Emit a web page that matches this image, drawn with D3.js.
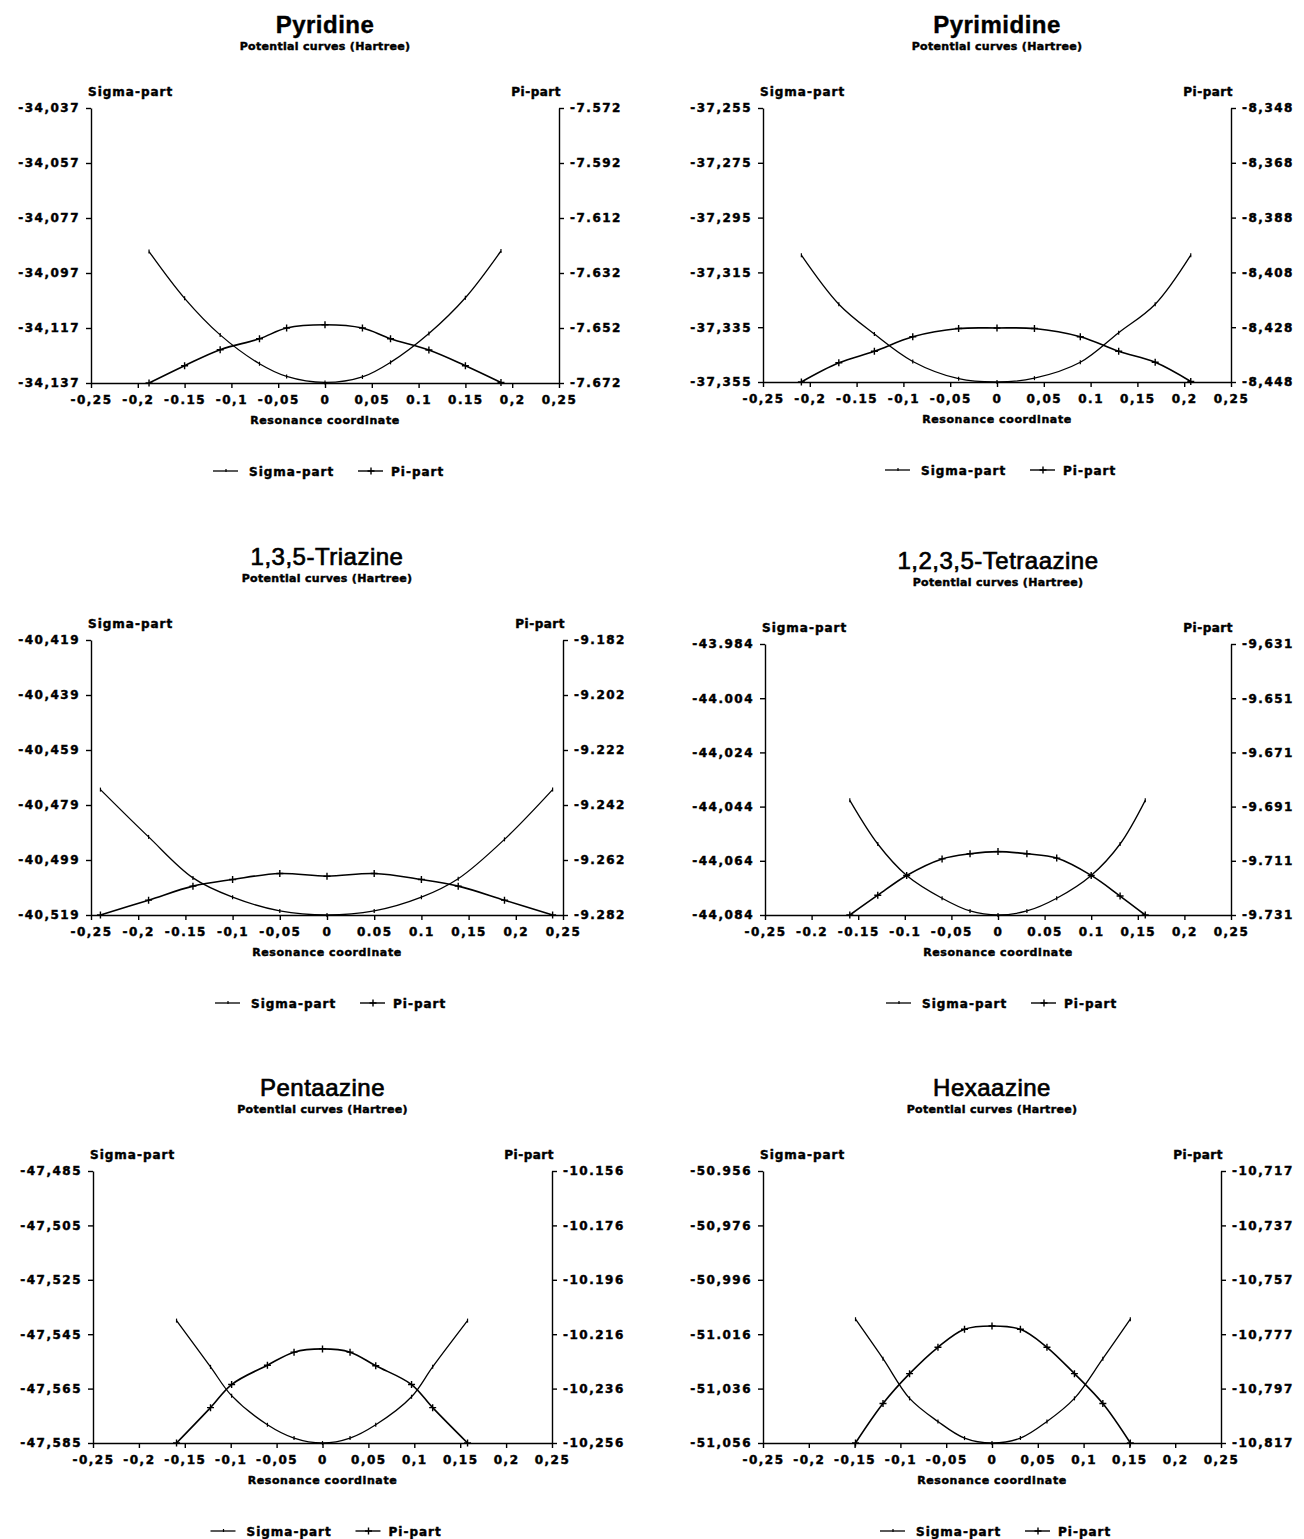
<!DOCTYPE html>
<html>
<head>
<meta charset="utf-8">
<script src="https://cdn.jsdelivr.net/npm/d3@7"></script>
<style>
	body { margin: 0; background: #fff; }
	svg text { fill: #000; }
</style>
</head>
<body>
<div id="viz"></div>
<script>
// values (Hartree)
var pyridineX = [-0.188, -0.15, -0.112, -0.07, -0.041, 0, 0.04, 0.07, 0.111, 0.15, 0.188];
var pyridineSigma = [-34.0892, -34.1062, -34.1195, -34.1300, -34.1346, -34.1368, -34.1348, -34.1295, -34.1190, -34.1060, -34.0890];
var pyridinePi = [-7.6720, -7.6657, -7.6599, -7.6559, -7.6520, -7.6508, -7.6520, -7.6559, -7.6600, -7.6657, -7.6718];

var pyrimidineX = [-0.209, -0.169, -0.131, -0.090, -0.041, 0, 0.040, 0.089, 0.130, 0.169, 0.207];
var pyrimidineSigma = [-37.3087, -37.3266, -37.3375, -37.3475, -37.3538, -37.3550, -37.3536, -37.3478, -37.3370, -37.3266, -37.3087];
var pyrimidinePi = [-8.4480, -8.4410, -8.4368, -8.4315, -8.4285, -8.4283, -8.4285, -8.4315, -8.4368, -8.4408, -8.4478];

var triazineX = [-0.240, -0.189, -0.142, -0.100, -0.050, 0, 0.050, 0.100, 0.139, 0.188, 0.239];
var triazineSigma = [-40.4734, -40.4906, -40.5055, -40.5125, -40.5175, -40.5190, -40.5175, -40.5125, -40.5058, -40.4915, -40.4734];
var triazinePi = [-9.2820, -9.2766, -9.2715, -9.2691, -9.2669, -9.2679, -9.2669, -9.2691, -9.2715, -9.2766, -9.2820];

var tetraazineX = [-0.159, -0.129, -0.098, -0.060, -0.030, 0, 0.031, 0.063, 0.100, 0.131, 0.158];
var tetraazineSigma = [-44.0417, -44.0578, -44.0694, -44.0778, -44.0825, -44.0840, -44.0825, -44.0778, -44.0694, -44.0578, -44.0417];
var tetraazinePi = [-9.7310, -9.7237, -9.7164, -9.7103, -9.7084, -9.7076, -9.7084, -9.7100, -9.7164, -9.7240, -9.7310];

var pentaazineX = [-0.159, -0.122, -0.099, -0.060, -0.031, 0, 0.030, 0.058, 0.097, 0.120, 0.158];
var pentaazineSigma = [-47.5400, -47.5570, -47.5676, -47.5783, -47.5832, -47.5850, -47.5832, -47.5783, -47.5680, -47.5570, -47.5400];
var pentaazinePi = [-10.2560, -10.2430, -10.2345, -10.2274, -10.2226, -10.2214, -10.2226, -10.2276, -10.2345, -10.2430, -10.2560];

var hexaazineX = [-0.149, -0.119, -0.090, -0.059, -0.030, 0, 0.031, 0.060, 0.090, 0.121, 0.151];
var hexaazineSigma = [-51.0105, -51.0250, -51.0396, -51.0481, -51.0542, -51.0560, -51.0542, -51.0481, -51.0396, -51.0250, -51.0105];
var hexaazinePi = [-10.8170, -10.8025, -10.7915, -10.7818, -10.7752, -10.7740, -10.7752, -10.7818, -10.7915, -10.8025, -10.8170];

// tick labels as printed (the original mixes commas and points)
var xTickValues = [-0.25, -0.2, -0.15, -0.1, -0.05, 0, 0.05, 0.1, 0.15, 0.2, 0.25];

var pyridineXLabels = ["-0,25", "-0,2", "-0.15", "-0,1", "-0,05", "0", "0,05", "0.1", "0.15", "0,2", "0,25"];
var pyridineSigmaLabels = ["-34,037", "-34,057", "-34,077", "-34,097", "-34,117", "-34,137"];
var pyridinePiLabels = ["-7.572", "-7.592", "-7.612", "-7.632", "-7.652", "-7.672"];

var pyrimidineXLabels = ["-0,25", "-0,2", "-0.15", "-0,1", "-0,05", "0", "0,05", "0.1", "0,15", "0,2", "0,25"];
var pyrimidineSigmaLabels = ["-37,255", "-37,275", "-37,295", "-37,315", "-37,335", "-37,355"];
var pyrimidinePiLabels = ["-8,348", "-8,368", "-8,388", "-8,408", "-8,428", "-8,448"];

var triazineXLabels = ["-0,25", "-0,2", "-0.15", "-0,1", "-0,05", "0", "0.05", "0.1", "0,15", "0,2", "0,25"];
var triazineSigmaLabels = ["-40,419", "-40,439", "-40,459", "-40,479", "-40,499", "-40,519"];
var triazinePiLabels = ["-9.182", "-9.202", "-9.222", "-9.242", "-9.262", "-9.282"];

var tetraazineXLabels = ["-0,25", "-0.2", "-0.15", "-0.1", "-0,05", "0", "0.05", "0.1", "0,15", "0,2", "0,25"];
var tetraazineSigmaLabels = ["-43.984", "-44.004", "-44,024", "-44,044", "-44,064", "-44,084"];
var tetraazinePiLabels = ["-9,631", "-9.651", "-9.671", "-9.691", "-9.711", "-9.731"];

var pentaazineXLabels = ["-0,25", "-0,2", "-0,15", "-0,1", "-0,05", "0", "0,05", "0,1", "0,15", "0,2", "0,25"];
var pentaazineSigmaLabels = ["-47,485", "-47,505", "-47,525", "-47,545", "-47,565", "-47,585"];
var pentaazinePiLabels = ["-10.156", "-10.176", "-10.196", "-10.216", "-10,236", "-10,256"];

var hexaazineXLabels = ["-0,25", "-0,2", "-0,15", "-0,1", "-0,05", "0", "0,05", "0,1", "0,15", "0,2", "0,25"];
var hexaazineSigmaLabels = ["-50.956", "-50,976", "-50,996", "-51.016", "-51,036", "-51,056"];
var hexaazinePiLabels = ["-10,717", "-10,737", "-10,757", "-10,777", "-10,797", "-10,817"];

var SPAN = 0.1;   // both value axes cover 0.1 Hartree
var STEP = 0.02;

var panels = [
	{ title: "Pyridine", heavy: true, left: 91, right: 559, top: 108, bottom: 383,
	  x: pyridineX, sigma: pyridineSigma, pi: pyridinePi, sigmaTop: -34.037, piTop: -7.572,
	  xLabels: pyridineXLabels, sigmaLabels: pyridineSigmaLabels, piLabels: pyridinePiLabels },
	{ title: "Pyrimidine", heavy: true, left: 763, right: 1231, top: 108, bottom: 382,
	  x: pyrimidineX, sigma: pyrimidineSigma, pi: pyrimidinePi, sigmaTop: -37.255, piTop: -8.348,
	  xLabels: pyrimidineXLabels, sigmaLabels: pyrimidineSigmaLabels, piLabels: pyrimidinePiLabels },
	{ title: "1,3,5-Triazine", heavy: false, left: 91, right: 563, top: 640, bottom: 915,
	  x: triazineX, sigma: triazineSigma, pi: triazinePi, sigmaTop: -40.419, piTop: -9.182,
	  xLabels: triazineXLabels, sigmaLabels: triazineSigmaLabels, piLabels: triazinePiLabels },
	{ title: "1,2,3,5-Tetraazine", heavy: false, left: 765, right: 1231, top: 644, bottom: 915,
	  x: tetraazineX, sigma: tetraazineSigma, pi: tetraazinePi, sigmaTop: -43.984, piTop: -9.631,
	  xLabels: tetraazineXLabels, sigmaLabels: tetraazineSigmaLabels, piLabels: tetraazinePiLabels },
	{ title: "Pentaazine", heavy: false, left: 93, right: 552, top: 1171, bottom: 1443,
	  x: pentaazineX, sigma: pentaazineSigma, pi: pentaazinePi, sigmaTop: -47.485, piTop: -10.156,
	  xLabels: pentaazineXLabels, sigmaLabels: pentaazineSigmaLabels, piLabels: pentaazinePiLabels },
	{ title: "Hexaazine", heavy: false, left: 763, right: 1221, top: 1171, bottom: 1443,
	  x: hexaazineX, sigma: hexaazineSigma, pi: hexaazinePi, sigmaTop: -50.956, piTop: -10.717,
	  xLabels: hexaazineXLabels, sigmaLabels: hexaazineSigmaLabels, piLabels: hexaazinePiLabels }
];

var FONT = "'DejaVu Sans', sans-serif";

var svg = d3.select("#viz").append("svg")
	.attr("width", 1304)
	.attr("height", 1539)
	.style("background", "#fff");

// the scan prints everything in a very heavy face, so thicken the glyphs a little
var heavyText = function(sel, size, spacing) {
	return sel
		.style("font-family", FONT).style("font-weight", "bold")
		.style("font-size", size + "px")
		.style("letter-spacing", spacing + "px")
		.attr("stroke", "#000").attr("stroke-width", 0.45)
		.attr("fill", "#000");
}

var drawPlus = function(g, px, py, size) {
	g.append("path")
		.attr("d", "M " + (px - size) + " " + py + " L " + (px + size) + " " + py +
			" M " + px + " " + (py - size) + " L " + px + " " + (py + size))
		.attr("stroke", "#000")
		.attr("stroke-width", 1.4)
		.attr("fill", "none");
}

var drawPanel = function(p) {
	var g = svg.append("g");
	var cx = (p.left + p.right) / 2;

	var x = d3.scaleLinear().domain([-0.25, 0.25]).range([p.left, p.right]);
	var ySigma = d3.scaleLinear().domain([p.sigmaTop - SPAN, p.sigmaTop]).range([p.bottom, p.top]);
	var yPi = d3.scaleLinear().domain([p.piTop - SPAN, p.piTop]).range([p.bottom, p.top]);

	var sigmaTicks = p.sigmaLabels.map(function(d, i) { return p.sigmaTop - i * STEP; });
	var piTicks = p.piLabels.map(function(d, i) { return p.piTop - i * STEP; });

	// titles
	g.append("text")
		.attr("x", cx).attr("y", p.top - 75)
		.attr("text-anchor", "middle")
		.style("font-family", "'Liberation Sans', Arial, sans-serif")
		.style("font-weight", p.heavy ? "bold" : "normal")
		.style("font-size", "24px")
		.style("letter-spacing", "0.5px")
		.attr("stroke", "#000").attr("stroke-width", p.heavy ? 0.4 : 0.7)
		.text(p.title);
	heavyText(g.append("text"), 11, 0.3)
		.attr("x", cx).attr("y", p.top - 58)
		.attr("text-anchor", "middle")
		.text("Potential curves (Hartree)");

	// axis captions
	heavyText(g.append("text"), 12, 1)
		.attr("x", p.left - 3).attr("y", p.top - 12)
		.text("Sigma-part");
	heavyText(g.append("text"), 12, 0.5)
		.attr("x", p.right + 2).attr("y", p.top - 12)
		.attr("text-anchor", "end")
		.text("Pi-part");

	// axes
	var leftAxis = d3.axisLeft(ySigma)
		.tickValues(sigmaTicks)
		.tickFormat(function(d, i) { return p.sigmaLabels[i]; })
		.tickSize(5).tickSizeOuter(0).tickPadding(6);
	var rightAxis = d3.axisRight(yPi)
		.tickValues(piTicks)
		.tickFormat(function(d, i) { return p.piLabels[i]; })
		.tickSize(5).tickSizeOuter(0).tickPadding(6);
	var bottomAxis = d3.axisBottom(x)
		.tickValues(xTickValues)
		.tickFormat(function(d, i) { return p.xLabels[i]; })
		.tickSize(5).tickSizeOuter(0).tickPadding(7);

	var axes = [
		g.append("g").attr("transform", "translate(" + p.left + ",0)").call(leftAxis),
		g.append("g").attr("transform", "translate(" + p.right + ",0)").call(rightAxis),
		g.append("g").attr("transform", "translate(0," + p.bottom + ")").call(bottomAxis)
	];
	axes.forEach(function(a) {
		a.selectAll("path, line").attr("stroke", "#000").attr("stroke-width", 1.4);
		heavyText(a.selectAll("text"), 12, 1.5);
	});

	heavyText(g.append("text"), 11, 0.6)
		.attr("x", cx).attr("y", p.bottom + 41)
		.attr("text-anchor", "middle")
		.text("Resonance coordinate");

	// curves
	var sigmaPts = p.x.map(function(v, i) { return [x(v), ySigma(p.sigma[i])]; });
	var piPts = p.x.map(function(v, i) { return [x(v), yPi(p.pi[i])]; });
	var line = d3.line().curve(d3.curveCatmullRom.alpha(0.5));

	g.append("path").attr("d", line(sigmaPts))
		.attr("fill", "none").attr("stroke", "#000").attr("stroke-width", 1.3);
	g.append("path").attr("d", line(piPts))
		.attr("fill", "none").attr("stroke", "#000").attr("stroke-width", 1.6);

	sigmaPts.forEach(function(pt) {
		g.append("line")
			.attr("x1", pt[0]).attr("x2", pt[0])
			.attr("y1", pt[1] - 2).attr("y2", pt[1] + 2)
			.attr("stroke", "#000").attr("stroke-width", 1.2);
	});
	piPts.forEach(function(pt) { drawPlus(g, pt[0], pt[1], 3.5); });

	// legend
	var ly = p.bottom + 88;
	var lx = cx - 112;
	var lg = g.append("g");
	lg.append("line")
		.attr("x1", lx).attr("x2", lx + 25).attr("y1", ly).attr("y2", ly)
		.attr("stroke", "#000").attr("stroke-width", 1.3);
	lg.append("line")
		.attr("x1", lx + 13).attr("x2", lx + 13).attr("y1", ly - 2).attr("y2", ly + 1)
		.attr("stroke", "#000").attr("stroke-width", 1.2);
	heavyText(lg.append("text"), 12, 1)
		.attr("x", lx + 36).attr("y", ly + 5)
		.text("Sigma-part");
	lg.append("line")
		.attr("x1", lx + 145).attr("x2", lx + 170).attr("y1", ly).attr("y2", ly)
		.attr("stroke", "#000").attr("stroke-width", 1.4);
	drawPlus(lg, lx + 158, ly, 3.5);
	heavyText(lg.append("text"), 12, 1)
		.attr("x", lx + 178).attr("y", ly + 5)
		.text("Pi-part");
}

panels.forEach(function(p) { drawPanel(p); });
</script>
</body>
</html>
